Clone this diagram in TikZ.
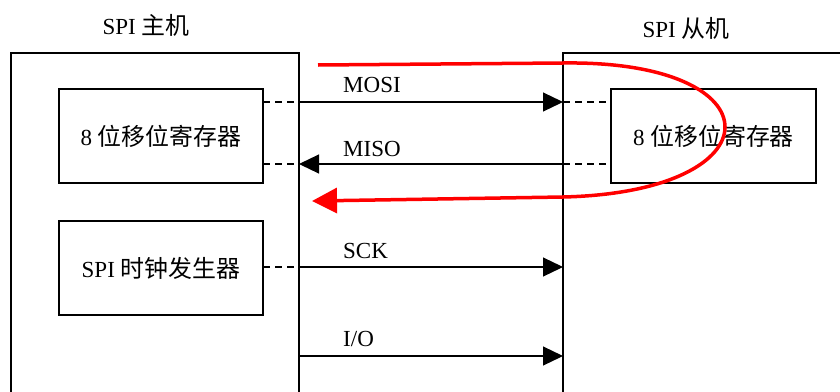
\documentclass[tikz,border=0pt]{standalone}
\usepackage{fontspec}
\setmainfont{Liberation Serif}
\newfontfamily\cjk[Scale=1.04]{Noto Sans CJK SC}
\usetikzlibrary{arrows.meta}
\tikzset{
  box/.style={draw, line width=1.2pt, outer sep=0pt, inner sep=0pt, font=\fontsize{23}{27}\selectfont},
  frame/.style={draw, line width=1.2pt, outer sep=0pt, inner sep=0pt, anchor=north west},
  dline/.style={line width=1.2pt, dash pattern=on 7pt off 5pt},
  sig/.style={line width=1.2pt, -{Triangle[length=20pt,width=19pt]}},
  lbl/.style={anchor=base west, inner sep=0pt, font=\fontsize{23}{27}\selectfont},
  ttl/.style={inner sep=0pt, font=\fontsize{23}{27}\selectfont},
  redarrow/.style={draw=red, line width=3.5pt, -{Triangle[length=25pt,width=25pt]}}
}
\begin{document}
\begin{tikzpicture}[x=1pt,y=-1pt]
\useasboundingbox (0,0) rectangle (840,391);
\clip (0,0) rectangle (840,391);
% outer frames
\node[frame, minimum width=288pt, minimum height=400pt] (master) at (11,53) {};
\node[frame, minimum width=300pt, minimum height=400pt] (slave) at (563,53) {};
% titles
\node[ttl] (tm) at (146,25) {SPI {\cjk 主机}};
\node[ttl] (ts) at (686,28) {SPI {\cjk 从机}};
% inner boxes
\node[box, minimum width=204pt, minimum height=94pt] (mreg) at (161,136) {8 {\cjk 位移位寄存器}};
\node[box, minimum width=204pt, minimum height=94pt] (clk) at (161,268) {SPI {\cjk 时钟发生器}};
\node[box, minimum width=205pt, minimum height=94pt] (sreg) at (713.5,136) {8 {\cjk 位移位寄存器}};
% signal levels
\coordinate (yMOSI) at (0,102);
\coordinate (yMISO) at (0,164);
\coordinate (ySCK) at (0,267);
\coordinate (yIO) at (0,356);
% MOSI
\draw[dline] (mreg.east |- yMOSI) -- (master.east |- yMOSI);
\draw[sig] (master.east |- yMOSI) -- (slave.west |- yMOSI);
\draw[dline] (slave.west |- yMOSI) -- (sreg.west |- yMOSI);
% MISO
\draw[dline] (mreg.east |- yMISO) -- (master.east |- yMISO);
\draw[sig] (slave.west |- yMISO) -- (master.east |- yMISO);
\draw[dline] (slave.west |- yMISO) -- (sreg.west |- yMISO);
% SCK
\draw[dline] (clk.east |- ySCK) -- (master.east |- ySCK);
\draw[sig] (master.east |- ySCK) -- (slave.west |- ySCK);
% I/O
\draw[sig] (master.east |- yIO) -- (slave.west |- yIO);
% labels
\node[lbl] (lmosi) at (343,92) {MOSI};
\node[lbl] (lmiso) at (343,156) {MISO};
\node[lbl] (lsck) at (343,258) {SCK};
\node[lbl] (lio) at (343,346) {I/O};
% red loop
\coordinate (rs) at (318,65);
\coordinate (r1) at (563,63);
\coordinate (r2) at (563,197);
\coordinate (re) at (312,201);
\draw[redarrow] (rs) -- (r1) .. controls (779,60) and (779,192) .. (r2) -- (re);
\end{tikzpicture}
\end{document}
